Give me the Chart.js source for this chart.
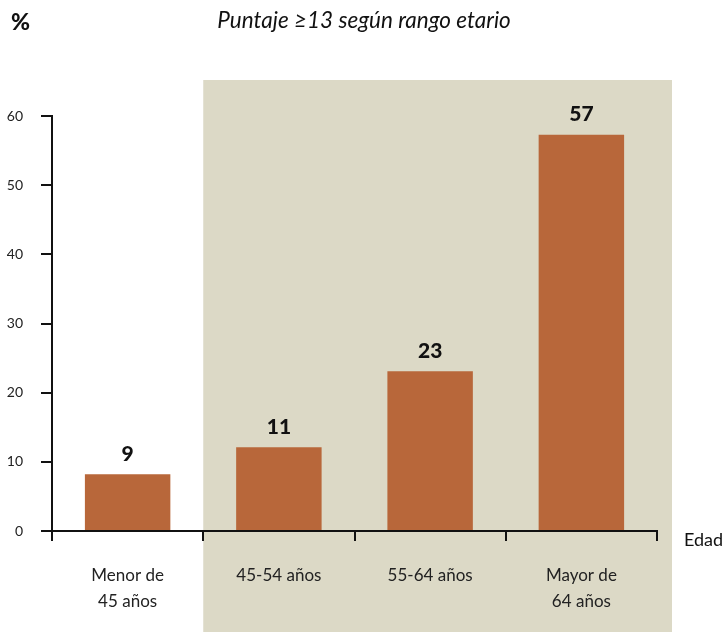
<!DOCTYPE html>
<html>
<head>
<meta charset="utf-8">
<script src="https://cdn.jsdelivr.net/npm/chart.js@4"></script>
<style>
  html, body { margin: 0; padding: 0; background: #fff; }
  #wrap { width: 723px; height: 632px; position: relative; }
</style>
</head>
<body>
<div id="wrap"><canvas id="edadChart" width="723" height="632"></canvas></div>
<script>
// datos
const categorias = [["Menor de", "45 años"], "45-54 años", "55-64 años", ["Mayor de", "64 años"]];
const valores = [8.2, 12.1, 23.1, 57.3];
const etiquetas = ["9", "11", "23", "57"];
const yTicks = [0, 10, 20, 30, 40, 50, 60];

const fuente = "Lato, 'Open Sans', sans-serif";

// fondo gris de los tres ultimos grupos + textos sueltos
const extras = {
  id: "extras",
  beforeDraw(chart) {
    const ctx = chart.ctx;
    const x = chart.scales.x;
    const left = (x.getPixelForValue(0) + x.getPixelForValue(1)) / 2;
    const right = x.right + 15;
    ctx.save();
    ctx.fillStyle = "#dcd9c6";
    ctx.fillRect(left, 80, right - left, chart.height - 80);
    ctx.restore();
  },
  afterDatasetsDraw(chart) {
    const ctx = chart.ctx;
    const meta = chart.getDatasetMeta(0);
    ctx.save();
    ctx.fillStyle = "#111";
    ctx.textAlign = "center";
    ctx.textBaseline = "middle";
    ctx.font = "900 21px " + fuente;
    meta.data.forEach((bar, i) => {
      ctx.fillText(etiquetas[i], bar.x, bar.y - 20);
    });
    // titulo y ejes
    ctx.font = "900 23px " + fuente;
    ctx.textAlign = "left";
    ctx.fillText("%", 11, 23);
    ctx.font = "italic 22.5px " + fuente;
    ctx.textAlign = "center";
    ctx.fillText("Puntaje ≥13 según rango etario", 364, 21);
    ctx.font = "18px " + fuente;
    ctx.textAlign = "left";
    ctx.fillText("Edad", 684, 540);
    ctx.restore();
  }
};

new Chart("edadChart", {
  type: "bar",
  data: {
    labels: categorias,
    datasets: [{
      data: valores,
      backgroundColor: "#b8673a",
      barPercentage: 0.565,
      categoryPercentage: 1
    }]
  },
  options: {
    responsive: false,
    animation: false,
    layout: { padding: { top: 116, right: 66, left: 0, bottom: 0 } },
    plugins: {
      legend: { display: false },
      tooltip: { enabled: false },
      title: { display: false }
    },
    scales: {
      x: {
        offset: true,
        grid: {
          offset: true,
          drawOnChartArea: false,
          color: "#111",
          lineWidth: 2,
          tickLength: 10
        },
        border: { color: "#111", width: 2 },
        ticks: {
          color: "#222",
          font: { family: fuente, size: 17, lineHeight: 1.53 },
          padding: 22,
          maxRotation: 0
        },
        afterFit(scale) { scale.height = 101; }
      },
      y: {
        min: 0,
        max: 60,
        afterBuildTicks(scale) { scale.ticks = yTicks.map(v => ({ value: v })); },
        grid: {
          drawOnChartArea: false,
          color: "#111",
          lineWidth: 2,
          tickLength: 11
        },
        border: { color: "#111", width: 2 },
        ticks: {
          color: "#222",
          font: { family: fuente, size: 14 },
          padding: 18
        },
        afterFit(scale) { scale.width = 52; }
      }
    }
  },
  plugins: [extras]
});
</script>
</body>
</html>
